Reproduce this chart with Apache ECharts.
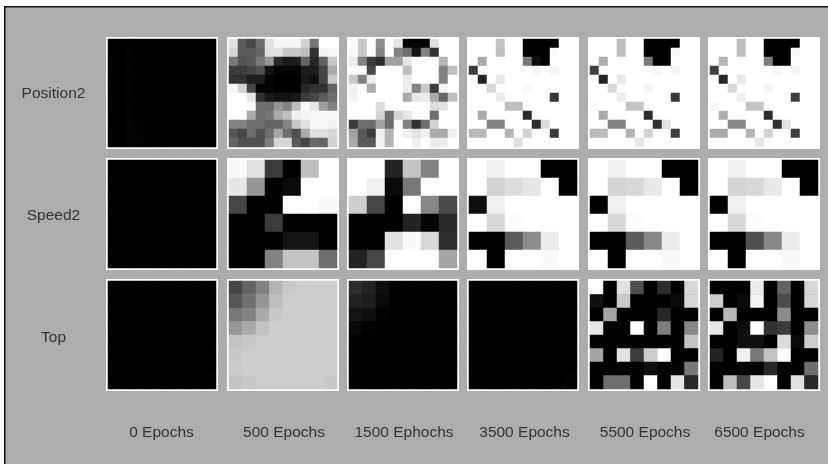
<!DOCTYPE html>
<html><head><meta charset="utf-8">
<style>html,body{margin:0;padding:0;background:#fff}#c{width:828px;height:464px;filter:blur(0.55px)}</style>
<script src="https://cdn.jsdelivr.net/npm/echarts@6/dist/echarts.min.js"></script>
</head><body><div id="c"></div>
<script>
const epochLabels = ['0 Epochs','500 Epochs','1500 Ephochs','3500 Epochs','5500 Epochs','6500 Epochs'];
const rowLabels = ['Position2','Speed2','Top'];

const position2_0 = [
[0,0,2,0,0,0,0,0,0,0,0,0],[0,0,4,0,0,0,0,0,0,0,0,0],[0,0,3,0,0,0,0,0,0,0,0,0],[0,0,4,0,0,0,0,0,0,0,0,0],
[0,0,3,0,0,0,0,0,0,0,0,0],[0,0,4,0,0,0,0,0,0,0,0,0],[0,0,3,0,0,0,0,0,0,0,0,0],[0,0,4,0,0,0,0,0,0,0,0,0],
[0,0,4,0,0,0,0,0,0,0,0,0],[0,0,5,2,0,0,0,0,0,0,0,0],[0,0,6,4,0,0,0,0,0,0,0,0],[0,0,6,4,0,0,0,0,0,0,0,0]];
const position2_500 = [
[225,90,70,110,225,245,245,245,210,120,255,255],
[215,90,90,100,225,225,200,200,190,50,245,250],
[120,85,90,120,150,40,25,30,100,40,100,200],
[60,60,70,80,20,5,5,5,30,30,70,170],
[50,50,30,30,5,0,0,0,25,15,70,200],
[245,210,70,5,5,0,0,0,40,50,50,100],
[255,255,230,50,25,20,20,25,60,70,90,110],
[255,255,250,110,110,150,130,190,250,230,160,130],
[255,255,170,110,120,170,190,240,245,250,250,250],
[130,130,110,110,100,100,130,200,225,250,250,240],
[85,70,110,80,110,165,110,80,170,225,225,215],
[100,80,80,80,125,215,215,90,70,105,100,210]];
const position2_1500 = [
[255,200,255,140,255,230,5,5,5,225,255,255],
[250,200,255,130,255,130,110,20,130,50,255,255],
[235,130,60,45,160,160,230,255,255,255,180,255],
[255,255,70,255,255,255,190,255,255,255,130,190],
[200,130,235,255,255,255,235,255,255,255,130,255],
[240,255,170,255,255,255,235,130,200,60,245,255],
[245,255,255,255,255,255,170,230,235,170,100,190],
[255,255,255,220,255,255,255,255,255,220,225,255],
[255,255,255,210,110,210,230,250,255,110,255,255],
[60,110,110,160,110,250,130,50,110,210,255,255],
[160,90,60,240,180,255,240,225,240,170,170,240],
[170,90,90,240,180,255,255,240,255,235,235,255]];
const position2_3500 = [
[255,255,255,195,255,255,0,0,0,0,255,255],
[255,255,255,190,255,255,0,0,0,250,255,255],
[255,170,255,255,255,255,120,15,0,255,255,255],
[60,255,255,255,255,255,255,245,255,245,255,255],
[255,35,255,230,255,255,255,255,255,255,255,255],
[255,255,215,255,255,255,248,255,255,255,255,255],
[255,255,255,235,255,255,255,255,255,55,255,255],
[252,255,255,255,190,190,255,255,255,255,255,255],
[255,170,255,255,255,255,45,255,255,255,255,255],
[255,255,130,130,255,255,255,45,220,255,255,255],
[185,185,255,255,180,255,210,255,255,60,255,255],
[255,255,255,255,255,225,255,255,255,255,255,255]];
const position2_5500 = [
[255,255,255,190,255,255,0,0,0,0,255,255],
[255,255,255,190,255,255,0,0,0,250,255,255],
[255,175,255,255,255,255,120,0,0,255,255,255],
[65,255,255,255,255,255,255,245,255,245,255,255],
[255,35,255,230,255,255,255,255,255,255,255,255],
[255,255,215,255,255,255,245,255,255,255,255,255],
[255,255,255,235,255,255,255,255,255,55,255,255],
[250,255,255,255,195,195,255,255,255,255,255,255],
[255,170,255,255,255,255,45,255,255,255,255,255],
[255,255,130,130,255,255,255,50,225,255,255,255],
[185,185,255,255,180,255,210,255,255,60,255,255],
[255,255,255,255,255,230,255,255,255,255,255,255]];
const position2_6500 = [
[255,255,255,190,255,255,0,0,0,0,255,255],
[255,255,255,190,255,255,0,0,0,250,255,255],
[255,180,255,255,255,255,125,0,0,255,255,255],
[65,255,255,255,255,255,255,245,255,245,255,255],
[255,40,255,230,255,255,255,255,255,255,255,255],
[255,255,215,255,255,255,245,255,255,255,255,255],
[255,255,255,240,255,255,255,255,255,60,255,255],
[248,255,255,255,195,195,255,255,255,255,255,255],
[255,175,255,255,255,255,45,255,255,255,255,255],
[255,255,135,135,255,255,255,50,225,255,255,255],
[170,170,255,255,180,255,210,255,255,60,255,255],
[255,255,255,255,255,230,255,255,255,255,255,255]];

const speed2_0 = [[0,0,0,0,0,0],[0,0,0,0,0,0],[0,0,0,0,0,0],[0,0,0,0,0,0],[0,0,0,0,0,0],[0,0,0,0,0,0]];
const speed2_500 = [
[250,225,60,0,190,255],[230,150,0,10,255,255],[70,0,0,255,255,250],
[0,0,60,0,0,0],[0,0,0,20,20,0],[0,0,130,195,195,110]];
const speed2_1500 = [
[255,255,35,195,130,255],[255,240,10,120,255,255],[205,70,0,255,135,75],
[0,0,0,35,5,40],[0,0,225,250,215,45],[35,70,255,255,255,165]];
const speed2_3500 = [
[255,240,255,255,0,0],[255,210,220,230,255,0],[15,240,255,255,255,255],
[255,215,252,255,255,255],[0,0,90,140,235,255],[255,0,255,255,250,255]];
const speed2_5500 = [
[255,240,255,255,0,0],[255,212,215,232,255,0],[0,240,255,255,255,255],
[255,215,252,255,255,255],[0,0,90,135,235,255],[255,0,255,255,250,255]];
const speed2_6500 = [
[255,240,255,255,0,0],[255,212,215,232,255,0],[0,240,255,255,255,255],
[255,215,252,255,255,255],[0,0,80,135,235,255],[255,0,255,255,250,255]];

const top_0 = [[0,0,0,0,0,0,0,0],[0,0,0,0,0,0,0,0],[0,0,0,0,0,0,0,0],[0,0,0,0,0,0,0,0],[0,0,0,0,0,0,0,0],[0,0,0,0,0,0,0,0],[0,0,0,0,0,0,0,0],[0,0,0,0,0,0,0,0]];
const top_500 = [
[70,100,130,180,200,205,205,205],[85,110,150,190,205,205,205,205],[120,130,170,200,205,205,205,205],
[150,170,195,205,205,205,205,205],[195,200,205,205,205,205,205,205],[200,205,205,205,205,205,205,205],
[203,205,205,205,205,205,205,205],[195,200,205,205,205,205,205,200]];
const top_1500 = [
[45,35,15,0,0,0,0,0],[35,30,10,0,0,0,0,0],[20,15,3,0,0,0,0,0],[8,3,0,0,0,0,0,0],
[0,0,0,0,0,0,0,0],[0,0,0,0,0,0,0,0],[0,0,0,0,0,0,0,0],[0,0,0,0,0,0,0,0]];
const top_3500 = [[0,0,0,0,0,0,0,0],[0,0,0,0,0,0,0,0],[0,0,0,0,0,0,0,0],[0,0,0,0,0,0,0,0],[0,0,0,0,0,0,0,0],[0,0,0,0,0,0,0,0],[0,0,0,0,0,0,0,0],[0,0,0,0,0,0,0,2]];
const top_5500 = [
[255,0,225,80,0,45,0,215],[15,0,200,0,0,0,10,215],[0,165,0,0,0,40,0,0],[230,0,0,255,0,125,0,135],
[0,0,0,0,0,0,0,195],[165,0,225,60,205,255,0,0],[0,0,0,0,15,0,5,120],[0,110,110,0,255,0,230,40]];
const top_6500 = [
[0,0,0,235,0,100,0,215],[205,0,10,245,0,75,0,215],[0,185,0,0,0,140,0,0],[230,0,15,255,50,60,0,140],
[0,0,15,15,0,220,10,205],[35,0,240,120,195,255,0,0],[0,0,0,0,40,0,0,110],[0,190,70,230,255,0,225,40]];

const panels = [
  [position2_0,position2_500,position2_1500,position2_3500,position2_5500,position2_6500],
  [speed2_0,speed2_500,speed2_1500,speed2_3500,speed2_5500,speed2_6500],
  [top_0,top_500,top_1500,top_3500,top_5500,top_6500]
];

// layout
const colLeft = [108,229,349,469,590,710];
const rowTop = [39,160,281];
const panelW = 108, panelH = 108;
const epochLabelX = [161.5,284,404,524.5,645,759.5];
const epochLabelY = 433;
const rowLabelX = 53.5;
const rowLabelY = [94,216,338];
const labelFont = '15.5px "Liberation Sans", Arial, sans-serif';
const labelColor = '#333333';

const grids=[],xAxes=[],yAxes=[],series=[];
panels.forEach((row,r)=>row.forEach((m,c)=>{
  const i=grids.length, n=m.length, idx=m.map((_,k)=>k);
  const sorted=m.flat().sort((a,b)=>a-b);
  const g=sorted[Math.floor(sorted.length/2)];
  grids.push({left:colLeft[c],top:rowTop[r],width:panelW,height:panelH,show:true,borderColor:'#fff',borderWidth:4,backgroundColor:`rgb(${g},${g},${g})`});
  xAxes.push({type:'category',gridIndex:i,data:idx,show:false});
  yAxes.push({type:'category',gridIndex:i,data:idx,inverse:true,show:false});
  const data=[];
  m.forEach((vals,y)=>vals.forEach((v,x)=>data.push([x,y,v])));
  series.push({type:'heatmap',xAxisIndex:i,yAxisIndex:i,data,silent:true,animation:false,progressive:0,
    itemStyle:{borderWidth:0},emphasis:{disabled:true}});
}));

const graphic=[
  {type:'rect',z:-10,silent:true,shape:{x:4,y:6,width:830,height:470},style:{fill:'#111'}},
  {type:'rect',z:-9,silent:true,shape:{x:5.5,y:7.5,width:830,height:470},style:{fill:'#adadad'}}
];
rowLabels.forEach((t,i)=>graphic.push({type:'text',silent:true,x:rowLabelX,y:rowLabelY[i],
  style:{text:t,font:labelFont,fill:labelColor,align:'center',verticalAlign:'middle'}}));
epochLabels.forEach((t,i)=>graphic.push({type:'text',silent:true,x:epochLabelX[i],y:epochLabelY,
  style:{text:t,font:labelFont,fill:labelColor,align:'center',verticalAlign:'middle'}}));

const chart=echarts.init(document.getElementById('c'),null,{renderer:'canvas'});
chart.setOption({
  animation:false,
  backgroundColor:'#fff',
  tooltip:{show:false},
  grid:grids,xAxis:xAxes,yAxis:yAxes,series,
  visualMap:{show:false,type:'continuous',min:0,max:255,dimension:2,seriesIndex:series.map((_,i)=>i),inRange:{color:['#000000','#ffffff']}},
  graphic
});
</script></body></html>
